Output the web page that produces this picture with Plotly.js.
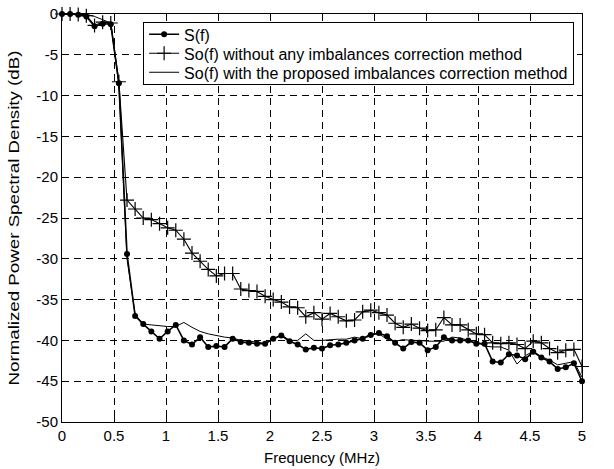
<!DOCTYPE html>
<html>
<head>
<meta charset="utf-8">
<script src="https://cdn.plot.ly/plotly-3.0.1.min.js"></script>
<style>html,body{margin:0;padding:0;background:#fff;}#chart{width:614px;height:469px;}</style>
</head>
<body>
<div id="chart"></div>
<script>
const freq = [0, 0.078, 0.156, 0.234, 0.313, 0.391, 0.469, 0.547, 0.625, 0.703, 0.781, 0.859, 0.938, 1.016, 1.094, 1.172, 1.25, 1.328, 1.406, 1.484, 1.563, 1.641, 1.719, 1.797, 1.875, 1.953, 2.031, 2.109, 2.188, 2.266, 2.344, 2.422, 2.5, 2.578, 2.656, 2.734, 2.813, 2.891, 2.969, 3.047, 3.125, 3.203, 3.281, 3.359, 3.438, 3.516, 3.594, 3.672, 3.75, 3.828, 3.906, 3.984, 4.063, 4.141, 4.219, 4.297, 4.375, 4.453, 4.531, 4.609, 4.688, 4.766, 4.844, 4.922, 5];

const sIdeal = [0, 0, -0.1, -0.3, -1.5, -1.2, -1.25, -8.5, -29.4, -37.0,
  -38.0, -38.9, -39.8, -38.9, -38.1, -40.0, -40.5, -39.6, -40.8, -40.7,
  -40.8, -39.8, -40.2, -40.3, -40.4, -40.4, -39.8, -39.4, -40.1, -40.5,
  -41.1, -40.9, -41.0, -40.6, -40.5, -40.3, -40.0, -39.8, -39.35, -39.1,
  -39.5, -40.3, -41.0, -40.2, -40.3, -41.2, -40.8, -39.6, -40.0, -40.0,
  -40.0, -40.4, -40.4, -42.6, -42.7, -41.7, -41.85, -42.3, -41.4, -42.1,
  -42.6, -43.5, -43.3, -42.8, -45.0];

const sNoCorr = [0, 0, -0.05, -0.2, -1.4, -1.0, -1.1, -8.3, -22.8, -23.9,
  -25.0, -25.2, -25.7, -26.2, -26.5, -27.6, -29.3, -30.3, -31.3, -32.1,
  -31.8, -31.8, -33.7, -33.9, -34.0, -34.6, -35.0, -35.3, -35.9, -36.0,
  -37.1, -36.6, -37.4, -36.7, -37.1, -37.6, -37.5, -36.5, -36.3, -36.6,
  -36.9, -37.9, -38.4, -38.0, -38.5, -38.8, -38.7, -37.2, -38.1, -38.1,
  -38.7, -39.2, -39.3, -40.3, -40.4, -40.3, -40.5, -41.0, -40.1, -40.3,
  -41.0, -41.5, -41.2, -41.1, -43.2];

const sCorr = [0, 0, 0, -0.05, -0.3, -0.7, -1.1, -8.7, -30.0, -36.8,
  -38.0, -38.1, -38.2, -38.3, -38.3, -37.8, -38.4, -38.9, -39.2, -39.4,
  -39.6, -39.7, -40.0, -40.1, -40.2, -40.4, -39.8, -39.3, -40.0, -40.0,
  -39.2, -40.0, -40.0, -39.9, -39.85, -39.85, -39.6, -39.8, -39.15, -39.2,
  -39.85, -40.1, -39.9, -40.0, -40.0, -40.1, -40.1, -40.1, -39.6, -39.7,
  -40.0, -40.1, -40.7, -40.8, -40.8, -41.2, -42.9, -41.9, -41.3, -42.0,
  -42.4, -43.0, -42.8, -42.6, -44.5];

const seriesNames = [
  'S(f)',
  'So(f) without any imbalances correction method',
  'So(f) with the proposed imbalances correction method'
];
const xTickVals = [0, 0.5, 1, 1.5, 2, 2.5, 3, 3.5, 4, 4.5, 5];
const xTickText = ['0', '0.5', '1', '1.5', '2', '2.5', '3', '3.5', '4', '4.5', '5'];
const yTickVals = [0, -5, -10, -15, -20, -25, -30, -35, -40, -45, -50];
const yTickText = ['0', '-5', '-10', '-15', '-20', '-25', '-30', '-35', '-40', '-45', '-50'];

const FONT = 'Liberation Sans, Arial, sans-serif';

const traces = [
  {
    x: freq, y: sIdeal, name: seriesNames[0], type: 'scatter', mode: 'lines+markers',
    line: {color: '#000', width: 1.6},
    marker: {symbol: 'circle', size: 6, color: '#000'},
    cliponaxis: false
  },
  {
    x: freq, y: sNoCorr, name: seriesNames[1], type: 'scatter', mode: 'lines+markers',
    line: {color: '#000', width: 1.1},
    marker: {symbol: 'cross-thin-open', size: 10, color: '#000', line: {color: '#000', width: 1.2}},
    cliponaxis: false
  },
  {
    x: freq, y: sCorr, name: seriesNames[2], type: 'scatter', mode: 'lines',
    line: {color: '#000', width: 1},
    cliponaxis: false
  }
];

const axisCommon = {
  showline: true, linecolor: '#000', linewidth: 1, mirror: 'ticks',
  ticks: 'inside', ticklen: 5, tickcolor: '#000', tickwidth: 1,
  showgrid: true, gridcolor: '#000', gridwidth: 1, griddash: '7px,5px',
  zeroline: false, tickfont: {family: FONT, size: 15, color: '#000'}
};

const layout = {
  width: 614, height: 469,
  margin: {l: 62, r: 32, t: 14, b: 47},
  paper_bgcolor: '#fff', plot_bgcolor: '#fff',
  font: {family: FONT, size: 15, color: '#000'},
  showlegend: true,
  legend: {
    x: 0.156, y: 0.981, xanchor: 'left', yanchor: 'top',
    bgcolor: '#fff', bordercolor: '#000', borderwidth: 1,
    font: {family: FONT, size: 16, color: '#000'},
    tracegroupgap: 0
  },
  xaxis: Object.assign({}, axisCommon, {
    range: [0, 5], tickvals: xTickVals, ticktext: xTickText,
    title: {text: 'Frequency (MHz)', font: {family: FONT, size: 15, color: '#000'}, standoff: 9}
  }),
  yaxis: Object.assign({}, axisCommon, {
    range: [-50, 0], tickvals: yTickVals, ticktext: yTickText,
    title: {text: 'Normalized Power Spectral Density (dB)', font: {family: FONT, size: 15, color: '#000'}, standoff: 13}
  })
};

// compact the legend rows to the reference's tighter line spacing
function compactLegend(gd) {
  const leg = gd.querySelector('g.legend');
  if (leg) {
    const rowGap = 19, firstRow = 12.5, bottomPad = 11.5;
    const items = leg.querySelectorAll('g.traces');
    items.forEach(function (it, i) {
      const t = it.getAttribute('transform') || '';
      const m = /translate\(\s*([-\d.e]+)[ ,]+([-\d.e]+)\s*\)/.exec(t);
      const x = m ? parseFloat(m[1]) : 1;
      it.setAttribute('transform', 'translate(' + x + ',' + (firstRow + i * rowGap) + ')');
    });
    const bg = leg.querySelector('rect.bg');
    if (bg) bg.setAttribute('height', firstRow + (items.length - 1) * rowGap + bottomPad);
  }
  // the reference's vertical title runs longer than its glyph size suggests
  const yt = gd.querySelector('text.ytitle');
  if (yt) {
    yt.setAttribute('textLength', '335');
    yt.setAttribute('lengthAdjust', 'spacingAndGlyphs');
  }
  return gd;
}

Plotly.newPlot('chart', traces, layout, {staticPlot: true, displayModeBar: false})
  .then(compactLegend);
</script>
</body>
</html>
